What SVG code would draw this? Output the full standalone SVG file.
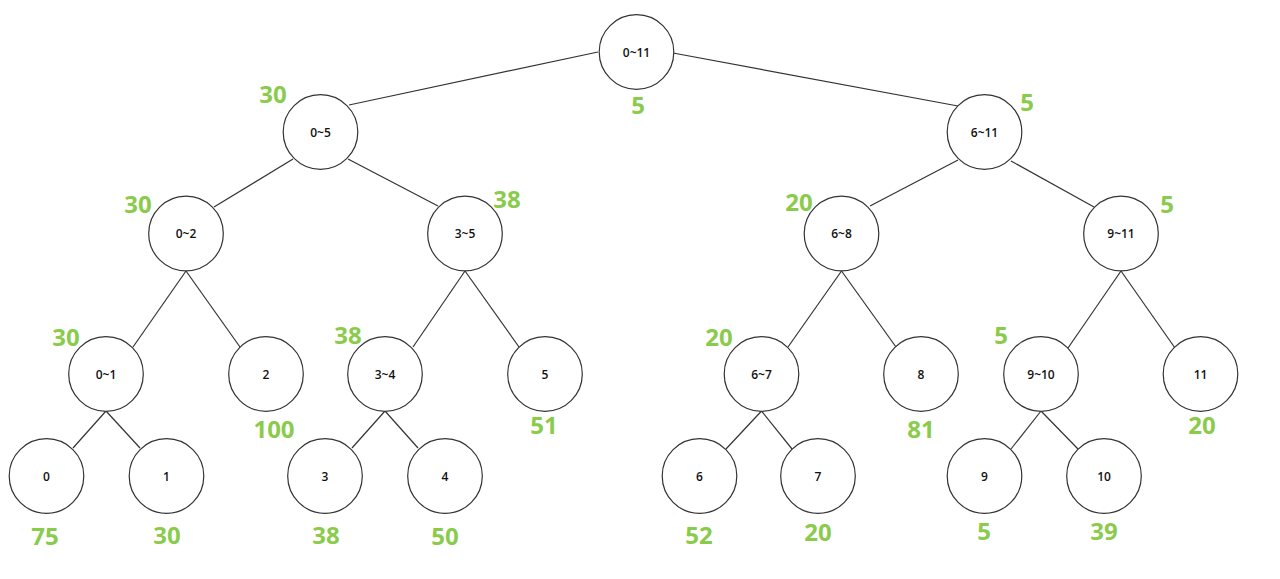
<svg xmlns="http://www.w3.org/2000/svg" width="1280" height="579" viewBox="0 0 1280 579">
<style>
.n circle{fill:#ffffff;stroke:#333333;stroke-width:1.2}
.n text{font-family:"Open Sans","Noto Sans","Liberation Sans",sans-serif;font-size:12px;font-weight:600;fill:#111111;text-anchor:middle}
.e line{stroke:#333333;stroke-width:1.2}
.v{font-family:"Open Sans","Noto Sans","Liberation Sans",sans-serif;font-size:24px;font-weight:700;fill:#8ACB4B;text-anchor:middle}
</style>
<rect width="1280" height="579" fill="#ffffff"/>
<g id="connectors" class="e">
<line x1="598" y1="52" x2="349" y2="105"/>
<line x1="673" y1="53" x2="958" y2="106"/>
<line x1="293" y1="159" x2="214" y2="207"/>
<line x1="348" y1="159" x2="438" y2="206"/>
<line x1="958" y1="160" x2="870" y2="206"/>
<line x1="1011" y1="161" x2="1094" y2="207"/>
<line x1="186" y1="271" x2="133" y2="347"/>
<line x1="186" y1="271" x2="240" y2="347"/>
<line x1="465" y1="271" x2="413" y2="347"/>
<line x1="465" y1="271" x2="519" y2="347"/>
<line x1="841.5" y1="271" x2="788" y2="347"/>
<line x1="841.5" y1="271" x2="896" y2="347"/>
<line x1="1121" y1="271" x2="1068" y2="348"/>
<line x1="1121" y1="271" x2="1175" y2="348"/>
<line x1="106" y1="411" x2="73" y2="448"/>
<line x1="106" y1="411" x2="140" y2="448"/>
<line x1="385" y1="411" x2="352" y2="448"/>
<line x1="385" y1="411" x2="418" y2="448"/>
<line x1="761.5" y1="411" x2="726" y2="449"/>
<line x1="761.5" y1="411" x2="792" y2="449"/>
<line x1="1041" y1="411" x2="1011" y2="449"/>
<line x1="1041" y1="411" x2="1078" y2="449"/>
</g>
<g id="n0-11" class="n"><circle cx="636.5" cy="52" r="37.3"/><text x="636.5" y="56.5">0~11</text></g>
<g id="n0-5" class="n"><circle cx="320.5" cy="132" r="37.3"/><text x="320.5" y="136.5">0~5</text></g>
<g id="n6-11" class="n"><circle cx="984.5" cy="132" r="37.3"/><text x="984.5" y="136.5">6~11</text></g>
<g id="n0-2" class="n"><circle cx="186" cy="233.5" r="37.3"/><text x="186" y="238">0~2</text></g>
<g id="n3-5" class="n"><circle cx="465" cy="233.5" r="37.3"/><text x="465" y="238">3~5</text></g>
<g id="n6-8" class="n"><circle cx="841.5" cy="233.5" r="37.3"/><text x="841.5" y="238">6~8</text></g>
<g id="n9-11" class="n"><circle cx="1121" cy="233.5" r="37.3"/><text x="1121" y="238">9~11</text></g>
<g id="n0-1" class="n"><circle cx="106" cy="374" r="37.3"/><text x="106" y="378.5">0~1</text></g>
<g id="n2" class="n"><circle cx="266" cy="374" r="37.3"/><text x="266" y="378.5">2</text></g>
<g id="n3-4" class="n"><circle cx="385" cy="374" r="37.3"/><text x="385" y="378.5">3~4</text></g>
<g id="n5" class="n"><circle cx="545" cy="374" r="37.3"/><text x="545" y="378.5">5</text></g>
<g id="n6-7" class="n"><circle cx="761.5" cy="374" r="37.3"/><text x="761.5" y="378.5">6~7</text></g>
<g id="n8" class="n"><circle cx="921" cy="374" r="37.3"/><text x="921" y="378.5">8</text></g>
<g id="n9-10" class="n"><circle cx="1041" cy="374" r="37.3"/><text x="1041" y="378.5">9~10</text></g>
<g id="n11" class="n"><circle cx="1200.5" cy="374" r="37.3"/><text x="1200.5" y="378.5">11</text></g>
<g id="n0" class="n"><circle cx="46.5" cy="476" r="37.3"/><text x="46.5" y="480.5">0</text></g>
<g id="n1" class="n"><circle cx="166.5" cy="476" r="37.3"/><text x="166.5" y="480.5">1</text></g>
<g id="n3" class="n"><circle cx="325" cy="476" r="37.3"/><text x="325" y="480.5">3</text></g>
<g id="n4" class="n"><circle cx="445" cy="476" r="37.3"/><text x="445" y="480.5">4</text></g>
<g id="n6" class="n"><circle cx="699.5" cy="476" r="37.3"/><text x="699.5" y="480.5">6</text></g>
<g id="n7" class="n"><circle cx="818" cy="476" r="37.3"/><text x="818" y="480.5">7</text></g>
<g id="n9" class="n"><circle cx="984.5" cy="476" r="37.3"/><text x="984.5" y="480.5">9</text></g>
<g id="n10" class="n"><circle cx="1104" cy="476" r="37.3"/><text x="1104" y="480.5">10</text></g>
<g id="values">
<text class="v" x="638" y="114">5</text>
<text class="v" x="273" y="103">30</text>
<text class="v" x="1027" y="111">5</text>
<text class="v" x="138" y="213">30</text>
<text class="v" x="507" y="208">38</text>
<text class="v" x="799" y="211">20</text>
<text class="v" x="1167" y="213">5</text>
<text class="v" x="66" y="346">30</text>
<text class="v" x="274" y="438">100</text>
<text class="v" x="348" y="344">38</text>
<text class="v" x="544" y="434">51</text>
<text class="v" x="719" y="346">20</text>
<text class="v" x="921" y="438">81</text>
<text class="v" x="1001" y="344">5</text>
<text class="v" x="1202" y="434">20</text>
<text class="v" x="45" y="545">75</text>
<text class="v" x="167" y="544">30</text>
<text class="v" x="326" y="544">38</text>
<text class="v" x="445" y="545">50</text>
<text class="v" x="699" y="544">52</text>
<text class="v" x="818" y="541">20</text>
<text class="v" x="984" y="540">5</text>
<text class="v" x="1104" y="540">39</text>
</g>
</svg>
